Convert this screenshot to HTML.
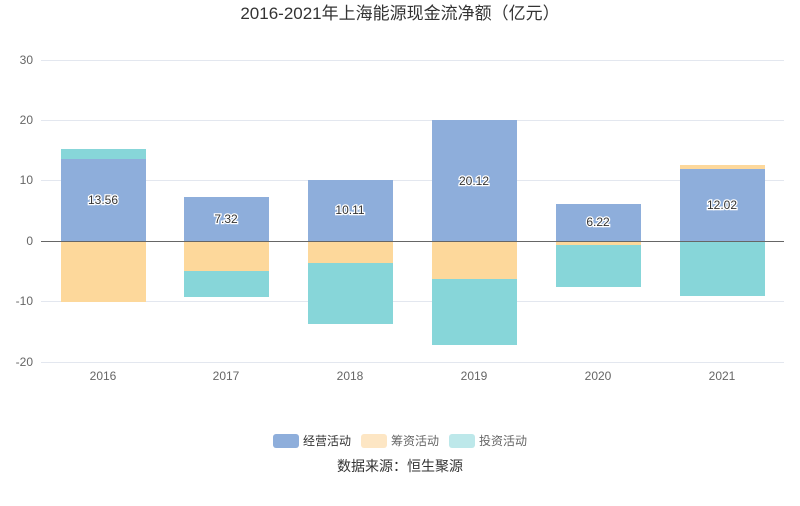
<!DOCTYPE html>
<html><head><meta charset="utf-8"><style>
body{margin:0;background:#fff;}
svg text{font-family:"Liberation Sans","Noto Sans CJK SC",sans-serif;}
</style></head><body>
<svg width="800" height="501" viewBox="0 0 800 501" xmlns="http://www.w3.org/2000/svg">
<rect width="800" height="501" fill="#fff"/>
<text x="400" y="19" text-anchor="middle" font-size="17" fill="#333">2016-2021年上海能源现金流净额（亿元）</text>
<g stroke="#e3e7ef" stroke-width="1">
<line x1="41" y1="60.5" x2="784" y2="60.5"/>
<line x1="41" y1="120.5" x2="784" y2="120.5"/>
<line x1="41" y1="180.5" x2="784" y2="180.5"/>
<line x1="41" y1="301.5" x2="784" y2="301.5"/>
<line x1="41" y1="362.5" x2="784" y2="362.5"/>
</g>
<g font-size="12" fill="#666" text-anchor="end">
<text x="33" y="64">30</text><text x="33" y="124">20</text><text x="33" y="184">10</text>
<text x="33" y="245">0</text><text x="33" y="305">-10</text><text x="33" y="366">-20</text>
</g>
<!-- 2016 -->
<rect x="61" y="159" width="85" height="82" fill="#8eaedb"/>
<rect x="61" y="149" width="85" height="10" fill="#87d6d9"/>
<rect x="61" y="241" width="85" height="61" fill="#fdd89b"/>
<!-- 2017 -->
<rect x="184" y="197" width="85" height="44" fill="#8eaedb"/>
<rect x="184" y="241" width="85" height="30" fill="#fdd89b"/>
<rect x="184" y="271" width="85" height="26" fill="#87d6d9"/>
<!-- 2018 -->
<rect x="308" y="180" width="85" height="61" fill="#8eaedb"/>
<rect x="308" y="241" width="85" height="22" fill="#fdd89b"/>
<rect x="308" y="263" width="85" height="61" fill="#87d6d9"/>
<!-- 2019 -->
<rect x="432" y="120" width="85" height="121" fill="#8eaedb"/>
<rect x="432" y="241" width="85" height="38" fill="#fdd89b"/>
<rect x="432" y="279" width="85" height="66" fill="#87d6d9"/>
<!-- 2020 -->
<rect x="556" y="204" width="85" height="37" fill="#8eaedb"/>
<rect x="556" y="241" width="85" height="4" fill="#fdd89b"/>
<rect x="556" y="245" width="85" height="42" fill="#87d6d9"/>
<!-- 2021 -->
<rect x="680" y="169" width="85" height="72" fill="#8eaedb"/>
<rect x="680" y="165" width="85" height="4" fill="#fdd89b"/>
<rect x="680" y="241" width="85" height="55" fill="#87d6d9"/>
<line x1="41" y1="241.5" x2="784" y2="241.5" stroke="#666" stroke-width="1"/>
<g font-size="12" fill="#333" text-anchor="middle" stroke="#fff" stroke-width="2.5" paint-order="stroke">
<text x="103" y="204">13.56</text><text x="226" y="223">7.32</text><text x="350" y="214">10.11</text>
<text x="474" y="185">20.12</text><text x="598" y="226">6.22</text><text x="722" y="209">12.02</text>
</g>
<g font-size="12" fill="#666" text-anchor="middle">
<text x="103" y="380">2016</text><text x="226" y="380">2017</text><text x="350" y="380">2018</text>
<text x="474" y="380">2019</text><text x="598" y="380">2020</text><text x="722" y="380">2021</text>
</g>
<g font-size="12" fill="#333">
<rect x="273" y="434" width="26" height="14" rx="3" fill="#8eaedb"/><text x="303" y="445">经营活动</text>
<rect x="361" y="434" width="26" height="14" rx="3" fill="#fde6c4"/><text x="391" y="445" fill="#666">筹资活动</text>
<rect x="449" y="434" width="26" height="14" rx="3" fill="#bde8ea"/><text x="479" y="445" fill="#666">投资活动</text>
</g>
<text x="400" y="471" text-anchor="middle" font-size="14" fill="#333">数据来源：恒生聚源</text>
</svg>
</body></html>
